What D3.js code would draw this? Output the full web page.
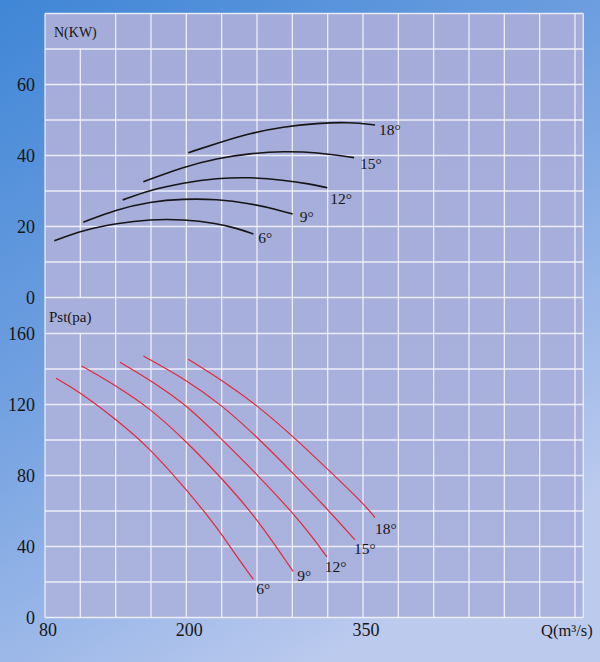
<!DOCTYPE html>
<html><head><meta charset="utf-8">
<script src="https://cdn.jsdelivr.net/npm/d3@7"></script>
<style>html,body{margin:0;padding:0;background:#6d9de0;}svg{display:block;}</style>
</head><body>
<script>
// ---------- data ----------
const angleLabels = ["6°", "9°", "12°", "15°", "18°"];
const xTicks = [80, 200, 350];
const nTicks = [0, 20, 40, 60];
const pTicks = [0, 40, 80, 120, 160];
// Power N(KW) vs Q
const power6  = [[87.9,16.0],[112.5,19.0],[140.9,20.9],[169.2,22.0],[197.4,22.0],[225.8,20.9],[242.8,19.5],[256.9,17.9]];
const power9  = [[112.5,21.2],[140.9,24.8],[169.2,27.0],[197.4,27.8],[225.8,27.7],[254.1,26.5],[276.7,24.8],[290.3,23.5]];
const power12 = [[146.0,27.5],[169.2,30.3],[197.4,32.3],[225.8,33.6],[254.1,33.9],[282.3,33.1],[305.0,32.0],[319.7,30.9]];
const power15 = [[163.5,32.6],[197.4,36.8],[225.8,39.2],[254.1,40.6],[282.3,41.2],[310.7,40.9],[342.4,39.4]];
const power18 = [[201.7,40.8],[225.8,43.4],[254.1,46.3],[282.3,48.1],[310.7,49.1],[339.0,49.4],[360.2,48.6]];
// Static pressure Pst(pa) vs Q
const press6  = [[89.3,134.8],[109.7,126.9],[140.9,111.3],[169.2,95.3],[200.3,71.8],[225.8,51.2],[242.8,34.3],[256.9,21.5]];
const press9  = [[111.1,141.7],[140.9,130.4],[169.2,117.9],[200.3,99.0],[230.0,78.5],[259.8,56.0],[290.8,25.8]];
const press12 = [[143.7,143.8],[169.2,133.8],[200.3,119.7],[230.0,100.4],[259.8,80.8],[290.8,58.7],[307.8,44.6],[319.2,34.3]];
const press15 = [[163.5,147.3],[200.3,133.8],[230.0,119.7],[259.8,101.9],[290.8,81.2],[319.2,61.5],[343.2,43.7]];
const press18 = [[201.7,145.5],[230.0,133.8],[259.8,119.7],[290.8,101.9],[319.2,84.1],[350.3,64.3],[360.2,56.3]];

const powerSeries = [power6, power9, power12, power15, power18];
const pressSeries = [press6, press9, press12, press15, press18];

// ---------- layout ----------
const W = 600, H = 662;
const xMin = 80, xMax = 537, xGridStep = 30, xGridEnd = 530;
const x = d3.scaleLinear().domain([80, 530]).range([45, 575]);
const yN = d3.scaleLinear().domain([0, 80]).range([297.5, 13.5]);
const yP = d3.scaleLinear().domain([0, 160]).range([617.5, 333.5]);
const plotL = x(xMin), plotR = x(xMax), plotT = yN(80), plotB = yP(0);

// label offsets (pixels) relative to curve ends
const powerLabelOff = [[5,4],[7,2],[3,11],[6,6],[4,5]];
const pressLabelOff = [[3,9],[4,4],[-2,10],[-1,9],[0,11]];

const svg = d3.select("body").append("svg").attr("width", W).attr("height", H);
const defs = svg.append("defs");
const bg = defs.append("linearGradient").attr("id","bg").attr("x1","0").attr("y1","0").attr("x2","0.55").attr("y2","1");
bg.append("stop").attr("offset","0").attr("stop-color","#3f86d6");
bg.append("stop").attr("offset","0.45").attr("stop-color","#6f9fe0");
bg.append("stop").attr("offset","1").attr("stop-color","#bccaee");
const pf = defs.append("linearGradient").attr("id","pf").attr("x1","0").attr("y1","0").attr("x2","0").attr("y2","1");
pf.append("stop").attr("offset","0").attr("stop-color","#a5acd9");
pf.append("stop").attr("offset","1").attr("stop-color","#aab2de");

svg.append("rect").attr("width", W).attr("height", H).attr("fill","url(#bg)");
svg.append("rect").attr("x", plotL).attr("y", plotT).attr("width", plotR - plotL).attr("height", plotB - plotT).attr("fill","url(#pf)");

// ---------- grid ----------
const grid = svg.append("g").attr("stroke","#f4f4fb").attr("stroke-width",1.3).attr("stroke-opacity",0.9);
const xGrid = d3.range(xMin, xGridEnd + 1, xGridStep);
xGrid.forEach((v, i) => {
  if (i === 1) {
    grid.append("line").attr("x1", x(v)).attr("x2", x(v)).attr("y1", yN(70)).attr("y2", yN(0));
    grid.append("line").attr("x1", x(v)).attr("x2", x(v)).attr("y1", yP(160)).attr("y2", yP(0));
  } else {
    grid.append("line").attr("x1", x(v)).attr("x2", x(v)).attr("y1", plotT).attr("y2", plotB);
  }
});
grid.append("line").attr("x1", plotR).attr("x2", plotR).attr("y1", plotT).attr("y2", plotB);
d3.range(0, 81, 10).forEach(v => grid.append("line").attr("x1", plotL).attr("x2", plotR).attr("y1", yN(v)).attr("y2", yN(v)));
d3.range(0, 161, 20).forEach(v => grid.append("line").attr("x1", plotL).attr("x2", plotR).attr("y1", yP(v)).attr("y2", yP(v)));

// ---------- text ----------
const font = "'Liberation Serif', 'Times New Roman', serif";
const txt = svg.append("g").attr("font-family", font).attr("fill","#161616");
nTicks.forEach(v => txt.append("text").attr("x", 35).attr("y", yN(v)).attr("dy","0.35em").attr("text-anchor","end").attr("font-size",18).text(v));
pTicks.forEach(v => txt.append("text").attr("x", 35).attr("y", yP(v)).attr("dy","0.35em").attr("text-anchor","end").attr("font-size",18).text(v));
xTicks.forEach(v => txt.append("text").attr("x", x(v) + 3).attr("y", 630).attr("dy","0.35em").attr("text-anchor","middle").attr("font-size",18).text(v));
txt.append("text").attr("x", 541).attr("y", 630).attr("dy","0.35em").attr("font-size",16.5).text("Q(m³/s)");
txt.append("text").attr("x", 54).attr("y", 32).attr("dy","0.35em").attr("font-size",14).text("N(KW)");
txt.append("text").attr("x", 49).attr("y", 317).attr("dy","0.35em").attr("font-size",15).text("Pst(pa)");

// ---------- curves ----------
const lineN = d3.line().x(d => x(d[0])).y(d => yN(d[1])).curve(d3.curveBasis);
const lineP = d3.line().x(d => x(d[0])).y(d => yP(d[1])).curve(d3.curveBasis);

svg.append("g").selectAll("path").data(powerSeries).join("path")
  .attr("d", lineN).attr("fill","none").attr("stroke","#151515").attr("stroke-width",1.6);
svg.append("g").selectAll("path").data(pressSeries).join("path")
  .attr("d", lineP).attr("fill","none").attr("stroke","#e2283a").attr("stroke-width",1.2);

powerSeries.forEach((s, i) => {
  const e = s[s.length - 1];
  txt.append("text").attr("x", x(e[0]) + powerLabelOff[i][0]).attr("y", yN(e[1]) + powerLabelOff[i][1])
    .attr("dy","0.35em").attr("font-size",15.5).text(angleLabels[i]);
});
pressSeries.forEach((s, i) => {
  const e = s[s.length - 1];
  txt.append("text").attr("x", x(e[0]) + pressLabelOff[i][0]).attr("y", yP(e[1]) + pressLabelOff[i][1])
    .attr("dy","0.35em").attr("font-size",15.5).text(angleLabels[i]);
});
</script>
</body></html>
